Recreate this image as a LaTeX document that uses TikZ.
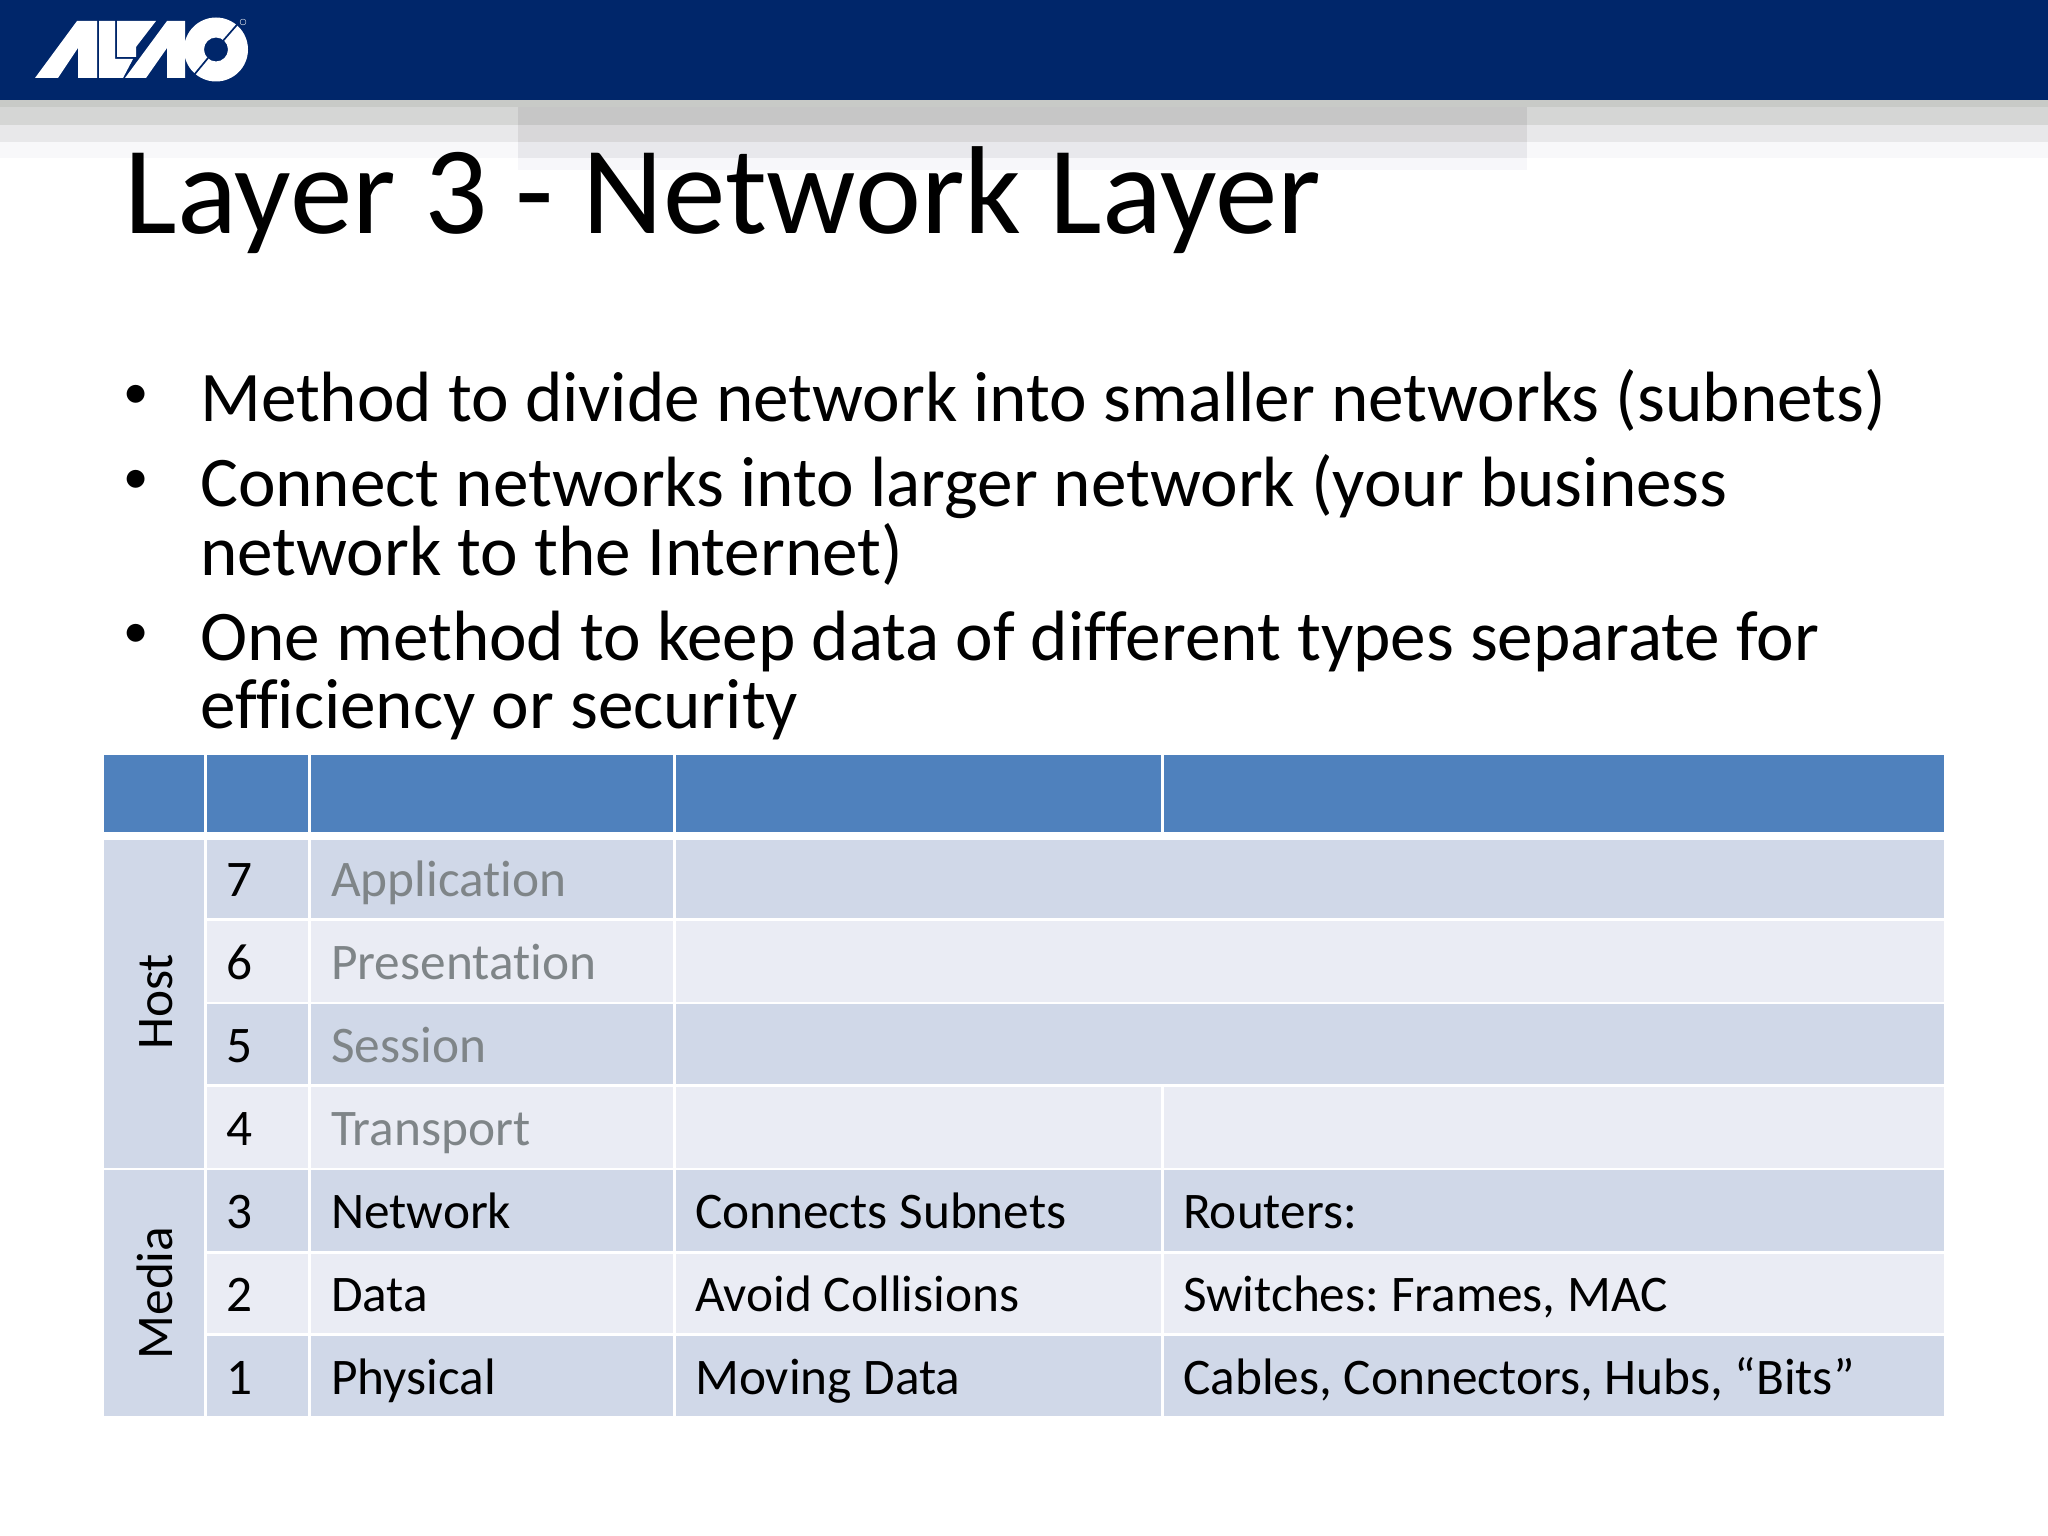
\documentclass[tikz,border=0pt]{standalone}
\usepackage{fontspec}
\setmainfont[Ligatures=NoCommon]{Carlito}
\definecolor{navy}{HTML}{00266A}
\definecolor{hdr}{HTML}{4F81BD}
\definecolor{dk}{HTML}{D0D8E8}
\definecolor{lt}{HTML}{EAECF4}
\definecolor{gry}{HTML}{7F8588}
\tikzset{
  x=0.05cm,y=-0.05cm,
  titletext/.style={anchor=base west,inner sep=0,font=\fontsize{178}{178}\selectfont},
  bodytext/.style={anchor=base west,inner sep=0,font=\fontsize{101.3}{101.3}\selectfont},
  bullettext/.style={anchor=center,inner sep=0,font=\fontsize{72}{72}\selectfont},
  celltext/.style={anchor=base west,inner sep=0,font=\fontsize{73}{73}\selectfont},
  numtext/.style={anchor=base,inner sep=0,font=\fontsize{73}{73}\selectfont},
  sidetext/.style={anchor=base,inner sep=0,rotate=90,font=\fontsize{73}{73}\selectfont},
  greytext/.style={celltext,text=gry},
}
\newcommand{\cellbox}[5]{\fill[#5] (#1,#2) rectangle (#3,#4);}
\begin{document}
\begin{tikzpicture}
\useasboundingbox (0,0) rectangle (2048,1536);
\fill[white] (0,0) rectangle (2048,1536);
% shadow bands
\fill[fill={rgb,255:red,200;green,202;blue,199}] (0,100) rectangle (2048,107);
\fill[fill={rgb,255:red,213;green,214;blue,213}] (0,107) rectangle (2048,125);
\fill[fill={rgb,255:red,232;green,232;blue,234}] (0,125) rectangle (2048,142);
\fill[fill={rgb,255:red,248;green,248;blue,250}] (0,142) rectangle (2048,158);
\fill[fill={rgb,255:red,198;green,198;blue,198}] (518,107) rectangle (1527,125);
\fill[fill={rgb,255:red,216;green,215;blue,217}] (518,125) rectangle (1527,142);
\fill[fill={rgb,255:red,232;green,232;blue,236}] (518,142) rectangle (1527,158);
\fill[fill={rgb,255:red,247;green,247;blue,250}] (518,158) rectangle (1527,170);
\fill[navy] (0,0) rectangle (2048,100);
% logo
\fill[white] (35,78)--(77,21)--(97,21)--(97,78)--(78,78)--(78,48)--(58,78)--cycle;
\fill[white] (99,21)--(115,21)--(115,59)--(133,59)--(123,78)--(99,78)--cycle;
\fill[white] (117,21)--(156,21)--(136,47)--(136,57)--(117,57)--cycle;
\fill[white] (125,78)--(167,21)--(185,21)--(185,78)--(167,78)--(167,48)--(146,78)--cycle;
\fill[white,even odd rule] (216,49.5) circle (32) (216,49.5) circle (12);
\draw[navy,line width=2.4pt] (242,19)--(222,42);
\draw[navy,line width=2.4pt] (208,58)--(194,75);
\draw[white,line width=0.5pt,fill=navy] (243,22) circle (3);
% title and bullets
\node[titletext] (title) at (124.5,234) {Layer 3 - Network Layer};
\node[bodytext] (b1) at (200,421) {Method to divide network into smaller networks (subnets)};
\node[bodytext] (b2) at (200,506) {Connect networks into larger network (your business};
\node[bodytext] (b2b) at (200,575) {network to the Internet)};
\node[bodytext] (b3) at (200,660) {One method to keep data of different types separate for};
\node[bodytext] (b3b) at (200,728) {efficiency or security};
\node[bullettext] (d1) at (136,397) {•};
\node[bullettext] (d2) at (136,482) {•};
\node[bullettext] (d3) at (136,636) {•};
% header
\cellbox{104}{755}{204}{832}{hdr}
\cellbox{207}{755}{308}{832}{hdr}
\cellbox{311}{755}{673}{832}{hdr}
\cellbox{676}{755}{1161}{832}{hdr}
\cellbox{1164}{755}{1944}{832}{hdr}
% side cells
\cellbox{104}{840}{204}{1168}{dk}
\cellbox{104}{1170}{204}{1416}{dk}
% rows
\cellbox{207}{840}{308}{918}{dk}\cellbox{311}{840}{673}{918}{dk}\cellbox{676}{840}{1944}{918}{dk}
\cellbox{207}{921}{308}{1002}{lt}\cellbox{311}{921}{673}{1002}{lt}\cellbox{676}{921}{1944}{1002}{lt}
\cellbox{207}{1004}{308}{1084}{dk}\cellbox{311}{1004}{673}{1084}{dk}\cellbox{676}{1004}{1944}{1084}{dk}
\cellbox{207}{1087}{308}{1168}{lt}\cellbox{311}{1087}{673}{1168}{lt}\cellbox{676}{1087}{1161}{1168}{lt}\cellbox{1164}{1087}{1944}{1168}{lt}
\cellbox{207}{1170}{308}{1251}{dk}\cellbox{311}{1170}{673}{1251}{dk}\cellbox{676}{1170}{1161}{1251}{dk}\cellbox{1164}{1170}{1944}{1251}{dk}
\cellbox{207}{1254}{308}{1333}{lt}\cellbox{311}{1254}{673}{1333}{lt}\cellbox{676}{1254}{1161}{1333}{lt}\cellbox{1164}{1254}{1944}{1333}{lt}
\cellbox{207}{1336}{308}{1416}{dk}\cellbox{311}{1336}{673}{1416}{dk}\cellbox{676}{1336}{1161}{1416}{dk}\cellbox{1164}{1336}{1944}{1416}{dk}
% table text
\node[sidetext] (host) at (172,1002) {Host};
\node[sidetext] (media) at (172,1293) {Media};
\node[numtext] (n7) at (239,896) {7};
\node[numtext] (n6) at (239,979) {6};
\node[numtext] (n5) at (239,1062) {5};
\node[numtext] (n4) at (239,1145) {4};
\node[numtext] (n3) at (239,1228) {3};
\node[numtext] (n2) at (239,1311) {2};
\node[numtext] (n1) at (239,1394) {1};
\node[greytext] (l7) at (331,896) {Application};
\node[greytext] (l6) at (331,979) {Presentation};
\node[greytext] (l5) at (331,1062) {Session};
\node[greytext] (l4) at (331,1145) {Transport};
\node[celltext] (l3) at (331,1228) {Network};
\node[celltext] (l2) at (331,1311) {Data};
\node[celltext] (l1) at (331,1394) {Physical};
\node[celltext] (p3) at (695,1228) {Connects Subnets};
\node[celltext] (p2) at (695,1311) {Avoid Collisions};
\node[celltext] (p1) at (695,1394) {Moving Data};
\node[celltext] (d3c) at (1183,1228) {Routers:};
\node[celltext] (d2c) at (1183,1311) {Switches:\kern-5pt{} Frames, MAC};
\node[celltext] (d1c) at (1183,1394) {Cables, Connectors, Hubs, “Bits”};
\end{tikzpicture}
\end{document}
